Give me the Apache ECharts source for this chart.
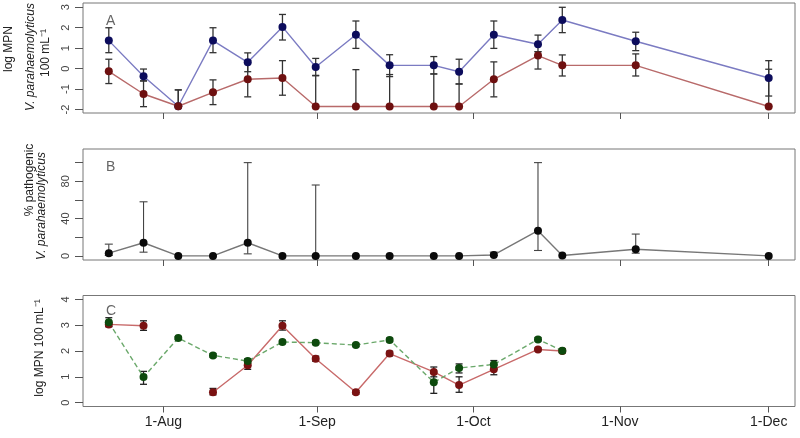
<!DOCTYPE html>
<html><head><meta charset="utf-8">
<script src="https://cdn.jsdelivr.net/npm/echarts@6/dist/echarts.min.js"></script>
<style>html,body{margin:0;padding:0;background:#fff}#c{width:800px;height:438px}</style>
</head><body><div id="c"></div>
<script>
// x positions: days since 1-Aug
const sampleDays = [-11, -4, 3, 10, 17, 24, 30.7, 38.8, 45.6, 54.5, 59.6, 66.6, 75.5, 80.4, 95.2, 122];
const tickDays = [0, 31, 62.5, 92, 122];
const tickLabels = ['1-Aug', '1-Sep', '1-Oct', '1-Nov', '1-Dec'];

// Panel A: total and pathogenic V. parahaemolyticus (log MPN 100 mL-1)
const totalVp   = [1.37, -0.37, -1.84, 1.37, 0.31, 2.04, 0.08, 1.66, 0.16, 0.16, -0.15, 1.66, 1.19, 2.38, 1.34, -0.46];
const totalLo   = [0.78, -0.6, -1.84, 0.78, -0.15, 1.4, -0.35, 0.99, -0.39, -0.26, -0.75, 0.99, 0.83, 1.76, 0.88, -1.34];
const totalHi   = [2.0, -0.02, -1.04, 2.0, 0.77, 2.65, 0.5, 2.33, 0.68, 0.59, 0.46, 2.33, 1.64, 3.0, 1.78, 0.39];
const pathoVp   = [-0.13, -1.24, -1.84, -1.16, -0.52, -0.46, -1.85, -1.85, -1.85, -1.85, -1.85, -0.52, 0.64, 0.16, 0.16, -1.85];
const pathoLo   = [-0.73, -1.86, -1.84, -1.76, -1.38, -1.3, -1.85, -1.85, -1.85, -1.85, -1.85, -1.38, -0.02, -0.36, -0.36, -1.85];
const pathoHi   = [0.46, -0.6, -1.04, -0.55, 0.39, 0.39, -0.33, -0.05, -0.29, -0.26, -0.75, 0.33, 0.83, 0.67, 0.72, -0.03];

// Panel B: % pathogenic
const pctPatho  = [2.9, 14.1, 0, 0, 14.1, 0, 0, 0, 0, 0, 0, 1, 27, 0.5, 7.2, 0];
const pctLo     = [0.5, 4, null, null, 2.2, null, 0, null, null, null, null, 0.5, 5.8, null, 2.9, null];
const pctHi     = [12.6, 58, null, null, 100, null, 76, null, null, null, null, 4, 100, null, 23.4, null];

// Panel C: two further series (log MPN 100 mL-1)
const greenVals = [3.11, 0.99, 2.50, 1.83, 1.61, 2.35, 2.32, 2.23, 2.43, 0.79, 1.34, 1.48, 2.45, 2.01];
const greenLo   = [2.94, 0.71, 2.44, 1.76, 1.52, 2.29, 2.25, 2.17, 2.36, 0.36, 1.15, 1.33, 2.39, 1.93];
const greenHi   = [3.29, 1.21, 2.56, 1.90, 1.70, 2.41, 2.39, 2.29, 2.50, 1.14, 1.50, 1.63, 2.52, 2.09];
const redVals   = [3.03, 2.98, null, 0.40, 1.45, 2.98, 1.70, 0.40, 1.90, 1.19, 0.68, 1.29, 2.06, 2.00];
const redLo     = [2.95, 2.80, null, 0.30, 1.29, 2.81, 1.60, 0.33, 1.81, 1.00, 0.40, 1.08, 2.01, 1.94];
const redHi     = [3.12, 3.17, null, 0.55, 1.59, 3.17, 1.80, 0.47, 1.99, 1.38, 1.00, 1.45, 2.11, 2.06];

const yTicksA = [-2, -1, 0, 1, 2, 3];
const yTicksB = [0, 20, 40, 60, 80, 100];
const yLabelsB = [0, 40, 80];
const yTicksC = [0, 1, 2, 3, 4];

const FONT = 'Liberation Sans, Arial, Helvetica, sans-serif';
const xMin = -16.2, xMax = 127.3;

const grids = [
  {left: 83, right: 5, top: 3, height: 110},
  {left: 83, right: 5, top: 149, height: 111},
  {left: 83, right: 5, top: 295.5, height: 111}
].map(g => Object.assign(g, {show: true, borderColor: '#777', borderWidth: 1, backgroundColor: 'transparent'}));

const xAxes = [0, 1, 2].map(i => ({
  type: 'value', gridIndex: i, min: xMin, max: xMax, position: 'bottom',
  axisLine: {show: false, onZero: false}, splitLine: {show: false},
  axisTick: {show: true, length: 6, customValues: tickDays, lineStyle: {color: '#555', width: 1}},
  axisLabel: {show: i === 2, customValues: tickDays, margin: 9, fontSize: 14, color: '#222', fontFamily: FONT,
    formatter: v => tickLabels[tickDays.indexOf(v)]}
}));

function yAx(i, min, max, ticks, labels) {
  return {
    type: 'value', gridIndex: i, min, max, position: 'left',
    axisLine: {show: false, onZero: false}, splitLine: {show: false},
    axisTick: {show: true, length: 8, customValues: ticks, lineStyle: {color: '#555', width: 1}},
    axisLabel: {rotate: 90, customValues: labels, margin: 12, fontSize: 11, color: '#444', fontFamily: FONT}
  };
}
const yAxes = [
  yAx(0, -2.17, 3.21, yTicksA, yTicksA),
  yAx(1, -4.4, 114.6, yTicksB, yLabelsB),
  yAx(2, -0.15, 4.15, yTicksC, yTicksC)
];

function pairs(days, vals) { return vals.map((v, i) => [days[i], v]); }

function errSeries(gi, days, lo, hi, color, cap, width) {
  const data = [];
  lo.forEach((l, i) => { if (l != null && hi[i] != null) data.push([days[i], l, hi[i]]); });
  return {
    type: 'custom', xAxisIndex: gi, yAxisIndex: gi, z: 2, silent: true, clip: false,
    encode: {x: 0, y: [1, 2]}, data,
    renderItem(params, api) {
      const x = api.value(0);
      const p1 = api.coord([x, api.value(1)]);
      const p2 = api.coord([x, api.value(2)]);
      const style = {stroke: color, lineWidth: width};
      return {type: 'group', children: [
        {type: 'line', shape: {x1: p1[0], y1: p1[1], x2: p2[0], y2: p2[1]}, style},
        {type: 'line', shape: {x1: p1[0] - cap, y1: p1[1], x2: p1[0] + cap, y2: p1[1]}, style},
        {type: 'line', shape: {x1: p2[0] - cap, y1: p2[1], x2: p2[0] + cap, y2: p2[1]}, style}
      ]};
    }
  };
}

function lineSeries(gi, days, vals, lineColor, ptColor, dashed, size) {
  return {
    type: 'line', xAxisIndex: gi, yAxisIndex: gi, z: 3, silent: true,
    data: pairs(days, vals), connectNulls: false,
    symbol: 'circle', symbolSize: size || 8, showSymbol: true,
    lineStyle: {color: lineColor, width: 1.4, type: dashed ? [5, 3] : 'solid'},
    itemStyle: {color: ptColor, borderWidth: 0},
    animation: false
  };
}

const cDays = sampleDays.slice(0, greenVals.length);

const series = [
  errSeries(0, sampleDays, totalLo, totalHi, '#333', 3.5, 1.3),
  errSeries(0, sampleDays, pathoLo, pathoHi, '#333', 3.5, 1.3),
  lineSeries(0, sampleDays, totalVp, '#7b7bc2', '#0c0c5c'),
  lineSeries(0, sampleDays, pathoVp, '#b86a6a', '#6e1010'),
  errSeries(1, sampleDays, pctLo, pctHi, '#444', 4, 1.1),
  lineSeries(1, sampleDays, pctPatho, '#777', '#0a0a0a'),
  errSeries(2, cDays, greenLo, greenHi, '#222', 3.5, 1.3),
  errSeries(2, cDays, redLo, redHi, '#222', 3.5, 1.3),
  lineSeries(2, cDays, redVals, '#c86a6a', '#7a1212'),
  lineSeries(2, cDays, greenVals, '#6aa86a', '#0d4a0d', true)
];

function vText(text, x, y, italic) {
  return {type: 'text', x, y, rotation: Math.PI / 2, silent: true,
    style: {text, font: (italic ? 'italic ' : '') + '12px ' + FONT, fill: '#222',
      textAlign: 'center', textVerticalAlign: 'middle', align: 'center', verticalAlign: 'middle'}};
}
function letter(text, x, y) {
  return {type: 'text', x, y, silent: true,
    style: {text, font: '14px ' + FONT, fill: '#666',
      textAlign: 'center', textVerticalAlign: 'middle', align: 'center', verticalAlign: 'middle'}};
}

const graphic = [
  vText('log MPN', 9, 49),
  vText('V. parahaemolyticus', 30.5, 57, true),
  vText('100 mL\u207B\u00B9', 46, 53),
  vText('% pathogenic', 29.5, 180),
  vText('V. parahaemolyticus', 41.5, 206, true),
  vText('log MPN 100 mL\u207B\u00B9', 40, 348),
  letter('A', 110.7, 21.5),
  letter('B', 110.7, 167.5),
  letter('C', 111, 311.5)
];

const chart = echarts.init(document.getElementById('c'), null, {renderer: 'canvas'});
chart.setOption({
  animation: false,
  backgroundColor: '#fff',
  textStyle: {fontFamily: FONT},
  grid: grids, xAxis: xAxes, yAxis: yAxes, series, graphic
});
</script></body></html>
